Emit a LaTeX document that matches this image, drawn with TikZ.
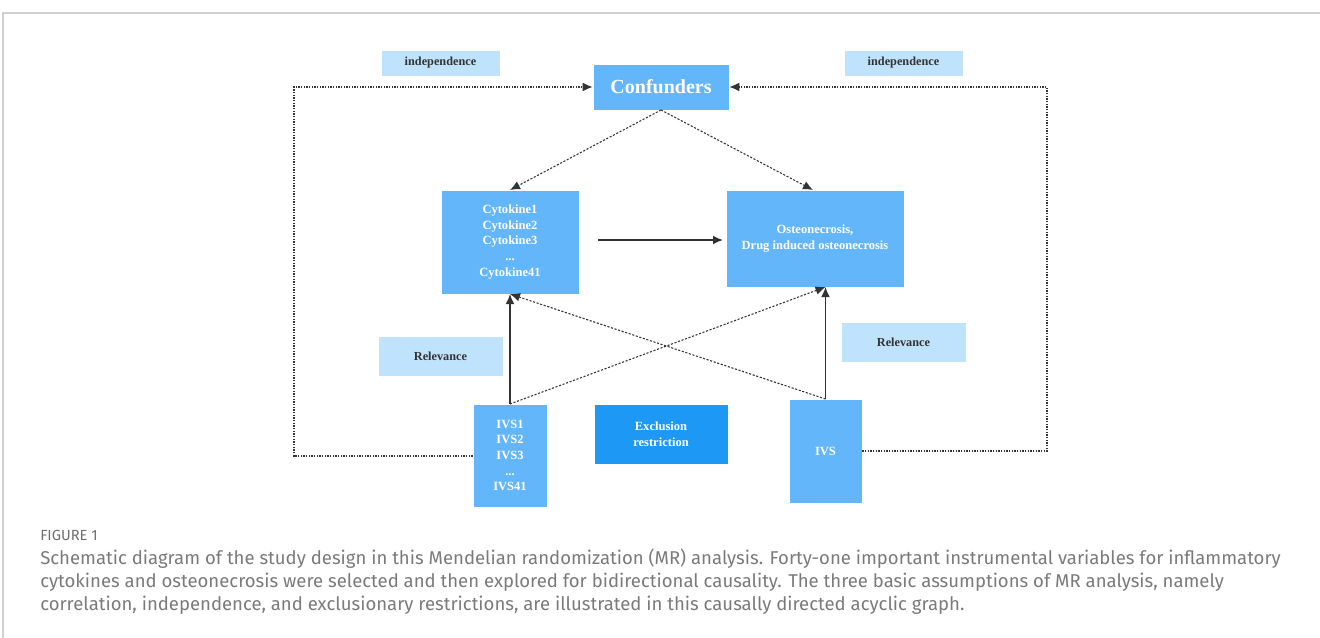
\documentclass[tikz,border=0pt]{standalone}
\usepackage{fontspec}
\setmainfont{Liberation Serif}
\newfontfamily\capfont{Fira Sans}
\usetikzlibrary{arrows.meta}
\definecolor{mid}{HTML}{63B6F9}
\definecolor{pale}{HTML}{BFE3FD}
\definecolor{deep}{HTML}{1E98F5}
\definecolor{ink}{HTML}{333333}
\definecolor{capgray}{HTML}{7A7A7A}
\definecolor{framegray}{HTML}{D0D0D0}
\tikzset{
  box/.style={fill=mid, draw=white, line width=0.4pt, text=white, font=\bfseries\fontsize{9.4}{11.7}\selectfont, align=center, inner sep=0pt},
  tag/.style={fill=pale, draw=white, line width=0.4pt, text=ink, font=\bfseries\fontsize{9.2}{11}\selectfont, align=center, inner sep=0pt},
  dotline/.style={draw=ink, line width=0.9pt, dash pattern=on 1pt off 1pt},
  dashline/.style={draw=ink, line width=0.8pt, dash pattern=on 1.6pt off 1.2pt},
  solidline/.style={draw=ink, line width=0.9pt},
  tip/.style={-{Latex[length=7.5pt,width=6.5pt]}}
}
\begin{document}
\begin{tikzpicture}[x=0.75pt,y=-0.75pt]
\useasboundingbox (0,0) rectangle (1320,638);
% frame
\draw[framegray, line width=1pt] (3,638) -- (3,13) -- (1320,13);
% tags
\node[tag, minimum width=119*0.75pt, minimum height=26*0.75pt] (indL) at (440.5,63) {independence};
\node[tag, minimum width=119*0.75pt, minimum height=26*0.75pt] (indR) at (903.5,63) {independence};
\node[tag, minimum width=125*0.75pt, minimum height=40*0.75pt] (relL) at (440.5,356) {Relevance};
\node[tag, minimum width=125*0.75pt, minimum height=40*0.75pt] (relR) at (903.5,342) {Relevance};
% boxes
\node[box, font=\bfseries\fontsize{15}{18}\selectfont, minimum width=136*0.75pt, minimum height=46*0.75pt] (conf) at (661,87) {Confunders};
\node[box, minimum width=138*0.75pt, minimum height=104*0.75pt] (cyto) at (510,242) {Cytokine1\\Cytokine2\\Cytokine3\\...\\Cytokine41};
\node[box, minimum width=178*0.75pt, minimum height=97*0.75pt] (osteo) at (815,238.5) {Osteonecrosis,\\Drug induced osteonecrosis};
\node[box, minimum width=74*0.75pt, minimum height=103*0.75pt] (ivsA) at (510,455.5) {IVS1\\IVS2\\IVS3\\...\\IVS41};
\node[box, fill=deep, minimum width=134*0.75pt, minimum height=60*0.75pt] (excl) at (661,434) {Exclusion\\restriction};
\node[box, minimum width=73*0.75pt, minimum height=104*0.75pt] (ivsB) at (825.5,451) {IVS};
% coordinates
\coordinate (lc) at (294,456);
\coordinate (lt) at (294,87);
\coordinate (rc) at (1047,451);
\coordinate (rt) at (1047,87);
\coordinate (cytoBot) at (510,294);
\coordinate (osteoBot) at (825.5,287);
\coordinate (ivsATop) at (510,404);
\coordinate (ivsBTop) at (825.5,399);
\coordinate (cytoTop) at (510,190);
\coordinate (osteoTop) at (813,190);
\coordinate (confBot) at (661,110);
\coordinate (mA) at (598,240);
\coordinate (mB) at (723,240);
% independence paths
\draw[dotline, tip] (ivsA.west |- lc) -- (lc) -- (lt) -- (conf.west);
\draw[dotline, tip] (ivsB.east |- rc) -- (rc) -- (rt) -- (conf.east);
% confounders paths
\draw[dashline, tip] (confBot) -- (cytoTop);
\draw[dashline, tip] (confBot) -- (osteoTop);
% causal
\draw[solidline, tip] (mA) -- (mB);
\draw[solidline, tip] (ivsATop) -- (cytoBot);
\draw[solidline, tip] (ivsBTop) -- (osteoBot);
\draw[dashline, tip] (ivsATop) -- (osteoBot);
\draw[dashline, tip] (ivsBTop) -- (cytoBot);
% caption
\node[anchor=north west, inner sep=0pt, text=capgray!90!black, font=\capfont\fontsize{11}{13}\selectfont] (figlab) at (40,530) {FIGURE 1};
\node[anchor=north west, inner sep=0pt, text=capgray, align=left, font=\capfont\fontsize{13.9}{17.25}\selectfont] (cap) at (40,549) {Schematic diagram of the study design in this Mendelian randomization (MR) analysis. Forty-one important instrumental variables for inflammatory\\cytokines and osteonecrosis were selected and then explored for bidirectional causality. The three basic assumptions of MR analysis, namely\\correlation, independence, and exclusionary restrictions, are illustrated in this causally directed acyclic graph.};
\end{tikzpicture}
\end{document}
